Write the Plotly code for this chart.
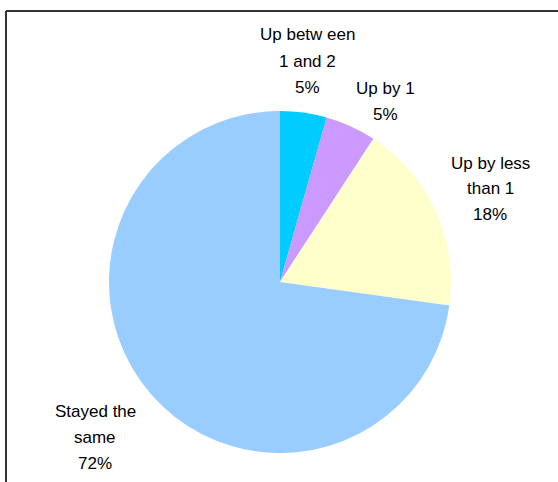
import plotly.graph_objects as go

# slices, clockwise from 12 o'clock
categories = ["Up betw een 1 and 2", "Up by 1", "Up by less than 1", "Stayed the same"]
shares = [4.4, 4.8, 18.0, 72.8]
pct_labels = ["5%", "5%", "18%", "72%"]
colors = ["#00CCFF", "#CC99FF", "#FFFFCC", "#99CCFF"]

# label lines and where they sit (pixels in the 558x482 page)
label_lines = [["Up betw een", "1 and 2"], ["Up by 1"], ["Up by less", "than 1"], ["Stayed the", "same"]]
label_pos = [(307, 35), (385, 88), (490, 163), (95, 411)]

W, H = 558, 482

fig = go.Figure()
fig.add_trace(go.Pie(
    labels=categories, values=shares, sort=False, direction="clockwise", rotation=0,
    marker=dict(colors=colors, line=dict(width=0)),
    textinfo="none", hoverinfo="label+percent", showlegend=False,
    domain=dict(x=[109 / W, 451 / W], y=[1 - 453 / H, 1 - 111 / H]),
))

font = dict(family="Arial, Liberation Sans, sans-serif", size=17, color="#000000")
line_gap = 26
for lines, pct, (px, py) in zip(label_lines, pct_labels, label_pos):
    for i, t in enumerate(lines + [pct]):
        fig.add_annotation(x=px / W, y=1 - (py + i * line_gap) / H, xref="paper", yref="paper",
                           text=t, showarrow=False, font=font, xanchor="center", yanchor="middle")

# chart border: only top and left edges show in the crop
fig.add_shape(type="line", xref="paper", yref="paper", x0=6 / W, y0=1 - 11 / H, x1=1, y1=1 - 11 / H,
              line=dict(color="#333333", width=2))
fig.add_shape(type="line", xref="paper", yref="paper", x0=6 / W, y0=0, x1=6 / W, y1=1 - 11 / H,
              line=dict(color="#333333", width=2))

fig.update_layout(width=W, height=H, margin=dict(l=0, r=0, t=0, b=0),
                  paper_bgcolor="white", plot_bgcolor="white")
fig.write_html("out.html", config={"displayModeBar": False},
               post_script="document.body.style.margin='0';document.body.style.overflow='hidden';")
